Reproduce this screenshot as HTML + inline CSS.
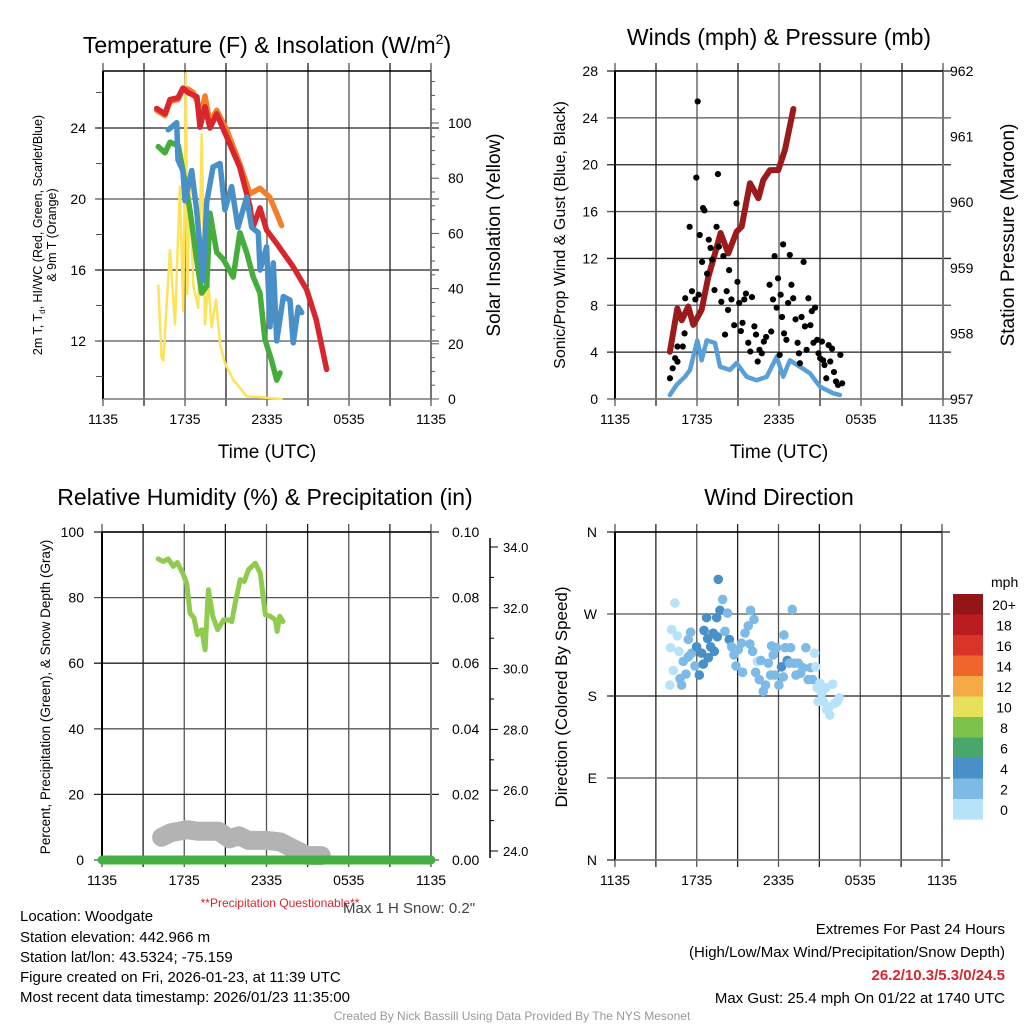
<!DOCTYPE html>
<html><head><meta charset="utf-8">
<style>
html,body{margin:0;padding:0;background:#fff;}
svg{display:block;font-family:"Liberation Sans",Arial,sans-serif;}
</style></head>
<body>
<svg id="fig" width="1024" height="1024" viewBox="0 0 1024 1024" xmlns="http://www.w3.org/2000/svg">
<rect width="1024" height="1024" fill="#fff"/>
<g id="layer"></g>
<text x="267" y="53" font-size="23" text-anchor="middle">Temperature (F) &amp; Insolation (W/m<tspan dy="-9" font-size="14">2</tspan><tspan dy="9">)</tspan></text>
<text x="779" y="45" font-size="23" text-anchor="middle">Winds (mph) &amp; Pressure (mb)</text>
<text x="265" y="505" font-size="23" text-anchor="middle">Relative Humidity (%) &amp; Precipitation (in)</text>
<text x="779" y="505" font-size="23" text-anchor="middle">Wind Direction</text>
<text x="267" y="458" font-size="19" text-anchor="middle">Time (UTC)</text>
<text x="779" y="458" font-size="19" text-anchor="middle">Time (UTC)</text>
<text transform="translate(42,235) rotate(-90)" font-size="12.5" text-anchor="middle">2m T, T<tspan font-size="8" dy="3">d</tspan><tspan dy="-3">, HI/WC (Red, Green, Scarlet/Blue)</tspan></text>
<text transform="translate(56,235) rotate(-90)" font-size="12.5" text-anchor="middle">&amp; 9m T (Orange)</text>
<text transform="translate(500,235) rotate(-90)" font-size="19" text-anchor="middle">Solar Insolation (Yellow)</text>
<text transform="translate(565,235) rotate(-90)" font-size="16" text-anchor="middle">Sonic/Prop Wind &amp; Gust (Blue, Black)</text>
<text transform="translate(1014,235) rotate(-90)" font-size="19" text-anchor="middle">Station Pressure (Maroon)</text>
<text transform="translate(50,697) rotate(-90)" font-size="13.5" text-anchor="middle">Percent, Precipitation (Green), &amp; Snow Depth (Gray)</text>
<text transform="translate(567,697) rotate(-90)" font-size="17" text-anchor="middle">Direction (Colored By Speed)</text>
<text x="280" y="907" font-size="12" fill="#d7262e" text-anchor="middle">**Precipitation Questionable**</text>
<text x="343" y="913" font-size="15" fill="#444">Max 1 H Snow: 0.2"</text>
<g font-size="15" fill="#000">
<text x="20" y="921">Location: Woodgate</text>
<text x="20" y="942">Station elevation: 442.966 m</text>
<text x="20" y="962">Station lat/lon: 43.5324; -75.159</text>
<text x="20" y="982">Figure created on Fri, 2026-01-23, at 11:39 UTC</text>
<text x="20" y="1002">Most recent data timestamp: 2026/01/23 11:35:00</text>
</g>
<g font-size="15" text-anchor="end">
<text x="1005" y="934">Extremes For Past 24 Hours</text>
<text x="1005" y="957">(High/Low/Max Wind/Precipitation/Snow Depth)</text>
<text x="1005" y="980" fill="#d7262e" font-weight="bold">26.2/10.3/5.3/0/24.5</text>
<text x="1005" y="1003">Max Gust: 25.4 mph On 01/22 at 1740 UTC</text>
</g>
<text x="512" y="1020" font-size="12" fill="#999" text-anchor="middle">Created By Nick Bassill Using Data Provided By The NYS Mesonet</text>
</svg>
<script>
const xTickLabels = ["1135","1735","2335","0535","1135"];
const redT = [3.93,4.54,4.9,5.49,5.85,6.22,6.88,7.1,7.46,7.83,8.32,9.05,10.0,10.75,10.97,11.48,11.97,12.7,13.9,14.9,15.6,16.36];
const redV = [25.1,24.8,25.6,25.7,26.25,26.0,25.75,24.05,25.2,24.0,24.8,23.5,21.8,19.6,18.4,19.5,18.25,17.5,16.2,14.9,13.2,10.4];
const orangeT = [3.93,4.54,4.9,5.49,5.85,6.22,6.6,6.88,7.1,7.46,7.83,8.32,9.05,10.0,10.75,11.48,12.2,12.7,13.07];
const orangeV = [25.0,24.7,25.5,25.6,26.2,26.2,26.0,25.5,24.5,25.8,24.3,25.0,23.9,22.0,20.3,20.6,20.1,19.2,18.5];
const blueT = [4.78,5.39,5.49,5.85,6.0,6.49,6.85,7.32,7.59,8.05,8.56,8.92,9.41,9.88,10.51,10.88,11.36,11.49,11.97,12.22,12.46,12.71,13.19,13.68,13.92,14.29,14.54];
const blueV = [23.9,24.3,22.2,21.6,19.9,21.6,19.4,15.4,19.8,21.8,22.0,19.4,20.7,18.4,20.1,18.4,18.1,16.0,17.3,12.8,16.4,12.0,14.5,14.3,11.9,13.9,13.6];
const greenT = [4.05,4.54,4.9,5.51,5.85,6.36,6.85,7.22,7.59,7.83,8.32,8.8,9.53,10.02,10.51,11.0,11.49,11.85,12.34,12.71,12.95];
const greenV = [22.95,22.6,23.2,23.0,21.6,19.4,16.6,14.7,15.1,19.2,17.0,16.6,15.6,18.1,17.0,15.6,14.7,12.1,10.9,9.8,10.2];
const solarT = [4.05,4.29,4.41,4.9,5.27,5.63,5.87,6.07,6.17,6.36,6.61,6.97,7.22,7.46,7.7,7.95,8.27,8.56,8.92,9.53,10.51,13.07];
const solarV = [41,15,14,54,27,77,32,118,38,76,41,33,96,27,43,26,36,20,13,7,1,0];
const presT = [4.02,4.56,4.88,5.36,5.73,6.34,6.83,7.32,7.73,8.29,8.9,9.27,9.88,10.49,10.85,11.34,11.95,12.44,13.05];
const presV = [957.72,958.38,958.2,958.41,958.13,958.36,958.86,959.22,959.53,959.22,959.55,959.63,960.29,960.06,960.34,960.49,960.49,960.8,961.42];
const windT = [4.02,4.51,5.12,5.49,6.02,6.34,6.71,7.32,7.68,8.41,8.9,9.63,10.37,11.1,11.83,12.31,12.8,13.53,14.26,15.0,15.48,15.97,16.46];
const windV = [0.34,1.2,1.9,2.48,5.0,3.3,5.0,4.78,2.76,2.48,3.07,1.9,1.6,1.9,3.6,1.9,3.3,2.76,2.2,1.05,0.77,0.49,0.34];
const gustT = [4.02,4.22,4.4,4.57,4.57,4.96,5.09,5.14,5.46,5.63,5.88,5.95,6.05,6.12,6.2,6.37,6.44,6.54,6.74,6.86,6.99,7.11,7.28,7.43,7.53,7.6,7.78,7.93,8.05,8.17,8.27,8.35,8.52,8.72,8.89,8.96,9.09,9.21,9.33,9.46,9.58,9.75,9.9,10.02,10.2,10.32,10.44,10.57,10.74,10.89,11.06,11.31,11.43,11.56,11.68,11.83,11.93,12.05,12.12,12.22,12.3,12.37,12.54,12.67,12.79,12.91,13.04,13.21,13.36,13.46,13.53,13.65,13.8,13.9,14.02,14.15,14.3,14.4,14.52,14.64,14.79,14.89,15.01,15.14,15.23,15.33,15.46,15.63,15.75,15.88,16.02,16.17,16.32,16.49,16.62];
const gustV = [1.77,2.62,3.48,3.19,4.48,4.48,5.6,8.6,14.7,9.2,8.5,18.9,25.4,8.9,14.0,11.7,16.3,16.1,10.7,13.6,12.9,11.9,9.3,14.7,19.2,13.0,8.3,12.2,5.5,9.2,7.6,11.0,8.5,6.3,16.7,10.0,8.2,5.8,6.5,8.5,9.0,4.8,4.05,8.7,6.2,5.5,3.2,4.2,3.9,4.9,5.3,9.75,5.76,8.5,12.2,7.8,10.3,3.76,8.9,7.0,13.2,5.6,5.05,8.2,12.3,9.75,8.6,6.8,4.8,3.9,3.05,7.0,11.7,6.2,4.2,8.6,6.3,7.5,4.8,7.8,5.05,3.9,3.48,4.9,3.3,2.9,1.77,4.6,3.2,4.3,2.3,1.5,1.2,3.76,1.34];
const rhT = [4.1,4.47,4.83,5.2,5.49,5.88,6.18,6.42,6.71,6.96,7.28,7.52,7.76,8.08,8.43,8.86,9.23,9.47,9.72,10.08,10.38,10.69,11.18,11.55,11.91,12.28,12.65,12.77,12.96,13.2];
const rhV = [91.8,91.0,91.8,89.5,90.7,87.5,84.4,75.3,73.8,68.7,70.2,64.1,82.4,74.3,70.2,73.2,73.2,72.7,78.3,85.5,84.9,88.5,90.5,87.5,74.8,74.3,73.2,69.7,74.3,72.7];
const snowT = [4.35,5.0,6.2,7.0,8.5,9.3,10.0,10.7,12.0,13.0,14.3,15.0,16.0];
const snowV = [24.45,24.6,24.7,24.65,24.65,24.4,24.5,24.35,24.35,24.3,24.0,23.85,23.85];
const precipT = [0,24];
const precipV = [0,0];
const dirT = [4.40,4.16,4.57,4.08,4.69,4.28,4.03,4.89,4.77,5.21,5.01,5.38,5.38,5.55,5.87,5.62,6.19,5.99,6.36,6.48,6.53,6.72,6.80,6.85,7.02,7.21,7.29,7.46,7.58,7.51,7.70,7.90,8.07,8.26,8.39,8.56,8.73,8.88,9.05,9.36,9.29,9.54,9.78,9.95,10.2,9.9,10.1,10.32,10.44,10.59,10.71,10.88,11.05,11.25,11.42,11.49,11.61,11.74,11.86,12.03,12.22,12.35,12.40,12.49,12.64,12.79,12.89,13.01,13.13,13.28,13.45,13.62,13.81,14.01,14.18,14.35,14.5,14.65,14.74,14.84,15.04,15.16,15.28,15.48,15.77,15.72,15.97,16.14,16.31,16.45,14.91,15.53];
const dirV = [282,253,246,233,229,208,192,192,199,204,218,223,242,250,213,227,203,234,227,215,252,266,243,222,234,249,229,266,308,245,274,286,251,271,242,234,225,213,231,206,238,249,257,274,264,237,229,206,218,198,219,185,192,216,203,235,225,203,233,192,212,201,247,233,219,216,233,275,216,203,216,205,211,233,198,211,198,227,212,189,194,183,174,189,159,168,193,172,174,178,174,165];
const dirSpd = [1,1,1,1,1,1,1,3,3,3,3,3,3,3,3,3,5,5,5,5,5,5,5,5,5,5,5,5,5,5,5,3,3,3,5,3,3,3,3,3,3,3,3,3,3,3,3,3,1,3,3,3,3,3,3,3,3,3,3,3,5,3,3,3,5,3,3,3,3,3,3,3,3,3,3,3,3,1,1,1,1,1,1,1,1,1,1,1,1,1,1,1];
const legendLabels = ["20+","18","16","14","12","10","8","6","4","2","0"];
const legendColors = ["#931518","#bb1c22","#da3327","#f0652b","#f5aa45","#e6e05a","#7dc24b","#48a86c","#4a90c8","#7dbbe6","#b6e3f8"];

const NS="http://www.w3.org/2000/svg";
const L=document.getElementById('layer');
function mk(tag,attrs,parent){const e=document.createElementNS(NS,tag);for(const k in attrs)e.setAttribute(k,attrs[k]);(parent||L).appendChild(e);return e;}
function lin(d0,d1,r0,r1){return v=>r0+(v-d0)*(r1-r0)/(d1-d0);}
function pathFrom(ts,vs,xf,yf){return ts.map((t,i)=>(i?'L':'M')+xf(t).toFixed(1)+' '+yf(vs[i]).toFixed(1)).join(' ');}

function frame(x0,x1,y0,y1,name,vLines,hVals,yf,xf){
  const g=mk('g',{});
  
  
  for(let i=0;i<=8;i++){const x=xf(i*3);mk('line',{x1:x,x2:x,y1:y0-8,y2:y1+7,stroke:i%2?'#222':'#555','stroke-width':1.3},g);}
  hVals.forEach((v,i)=>{const y=yf(v);mk('line',{x1:x0-8,x2:x1+8,y1:y,y2:y,stroke:i%2?'#555':'#222','stroke-width':1.3},g);});
  mk('line',{x1:x0,x2:x0,y1:y0,y2:y1,stroke:'#000','stroke-width':2},g);
  mk('line',{x1:x1,x2:x1,y1:y0,y2:y1,stroke:'#777','stroke-width':2},g);
  mk('line',{x1:x0,x2:x1,y1:y0,y2:y0,stroke:'#000','stroke-width':1.5},g);
  mk('line',{x1:x0,x2:x1,y1:y1,y2:y1,stroke:'#777','stroke-width':1.5},g);
  xTickLabels.forEach((s,i)=>{const t=mk('text',{x:xf(i*6),y:y1+25,'font-size':14,'text-anchor':'middle'},g);t.textContent=s;});
}
function yLabels(vals,yf,x,anchor,fmt,name,fs){
  const g=mk('g',{});
  
  
  vals.forEach(v=>{const t=mk('text',{x:x,y:yf(v)+5,'font-size':fs||14,'text-anchor':anchor},g);t.textContent=fmt(v);});
}
function line(ts,vs,xf,yf,color,w,name){
  const p=mk('path',{d:pathFrom(ts,vs,xf,yf),fill:'none',stroke:color,'stroke-width':w,'stroke-linejoin':'round','stroke-linecap':'round'});
  
  
}

{
 const xf=lin(0,24,103,431), yf=lin(12,24,341,128), sf=lin(0,100,399,123);
 frame(103,431,71,399,'temperature',null,[24,20,16,12],yf,xf);
 yLabels([24,20,16,12],yf,86,'end',v=>v,'temperature-y-ticks');
 yLabels([0,20,40,60,80,100],sf,448,'start',v=>v,'solar-y-ticks');
 for(let v=10;v<=26;v+=2){if(v%4){mk('line',{x1:96,x2:103,y1:yf(v),y2:yf(v),stroke:'#555'});}}
 for(let v=0;v<=115;v+=5){mk('line',{x1:431,x2:v%20?435:439,y1:sf(v),y2:sf(v),stroke:'#555'});}
 line(solarT,solarV,xf,sf,'#fde35a',2.5,'solar-insolation-line');
 line(orangeT,orangeV,xf,yf,'#f47f2a',5.5,'temp-9m-line');
 line(redT,redV,xf,yf,'#d7262e',5.5,'temp-2m-line');
 line(greenT,greenV,xf,yf,'#44ad3c',5.5,'dewpoint-line');
 line(blueT,blueV,xf,yf,'#4a90c8',5.5,'heat-index-windchill-line');
}
{
 const xf=lin(0,24,615,943), yf=lin(0,28,399,71), pf=lin(957,962,399,71);
 frame(615,943,71,399,'wind',null,[28,24,20,16,12,8,4,0],yf,xf);
 yLabels([0,4,8,12,16,20,24,28],yf,598,'end',v=>v,'wind-y-ticks');
 yLabels([957,958,959,960,961,962],pf,950,'start',v=>v,'pressure-y-ticks');
 line(presT,presV,xf,pf,'#9b1b1d',6,'pressure-line');
 line(windT,windV,xf,yf,'#5a9fd6',4.5,'wind-speed-line');
 gustT.forEach((t,i)=>{
  const c=mk('circle',{cx:xf(t),cy:yf(gustV[i]),r:3.1,fill:'#000'});
  
  
 });
}
{
 const xf=lin(0,24,102,431), yf=lin(0,100,860,532), pf=lin(0,0.1,860,532), df=lin(24,34,851,547);
 frame(102,431,532,860,'humidity',null,[100,80,60,40,20,0],yf,xf);
 yLabels([0,20,40,60,80,100],yf,84,'end',v=>v,'humidity-y-ticks');
 yLabels([0,0.02,0.04,0.06,0.08,0.1],pf,452,'start',v=>v.toFixed(2),'precip-y-ticks');
 mk('line',{x1:490,x2:490,y1:538,y2:858,stroke:'#000','stroke-width':1.5});
 for(let v=24;v<=34;v+=1){mk('line',{x1:490,x2:v%2?494:498,y1:df(v),y2:df(v),stroke:'#000'});}
 yLabels([24,26,28,30,32,34],df,503,'start',v=>v.toFixed(1),'snow-depth-y-ticks',13);
 line(snowT,snowV,xf,df,'#b3b3b3',19,'snow-depth-line');
 line(precipT,precipV,xf,pf,'#45b041',9,'precipitation-line');
 line(rhT,rhV,xf,yf,'#8fcb4e',5,'relative-humidity-line');
}
{
 const xf=lin(0,24,615,942), yf=lin(0,360,860,532);
 frame(615,942,532,860,'direction',null,[360,270,180,90,0],yf,xf);
 const dl=['N','E','S','W','N'];
 [0,90,180,270,360].forEach((v,i)=>{const t=mk('text',{x:597,y:yf(v)+5,'font-size':14,'text-anchor':'end'});t.textContent=dl[i];});
 dirT.forEach((t,i)=>{
  const s=dirSpd[i]; const col=s<2?'#b6e3f8':(s<4?'#7dbbe6':'#4a90c8');
  const c=mk('circle',{cx:xf(t),cy:yf(dirV[i]),r:4.8,fill:col});
  
  
 });
 const lg=mk('g',{});
 
 
 const tt=mk('text',{x:991,y:587,'font-size':14},lg);tt.textContent='mph';
 legendLabels.forEach((s,i)=>{
  const y=594+i*20.5;
  mk('rect',{x:953,y:y,width:30,height:20.6,fill:legendColors[i]},lg);
  const t=mk('text',{x:1004,y:y+16,'font-size':14,'text-anchor':'middle'},lg);t.textContent=s;
 });
}
</script>
</body></html>
